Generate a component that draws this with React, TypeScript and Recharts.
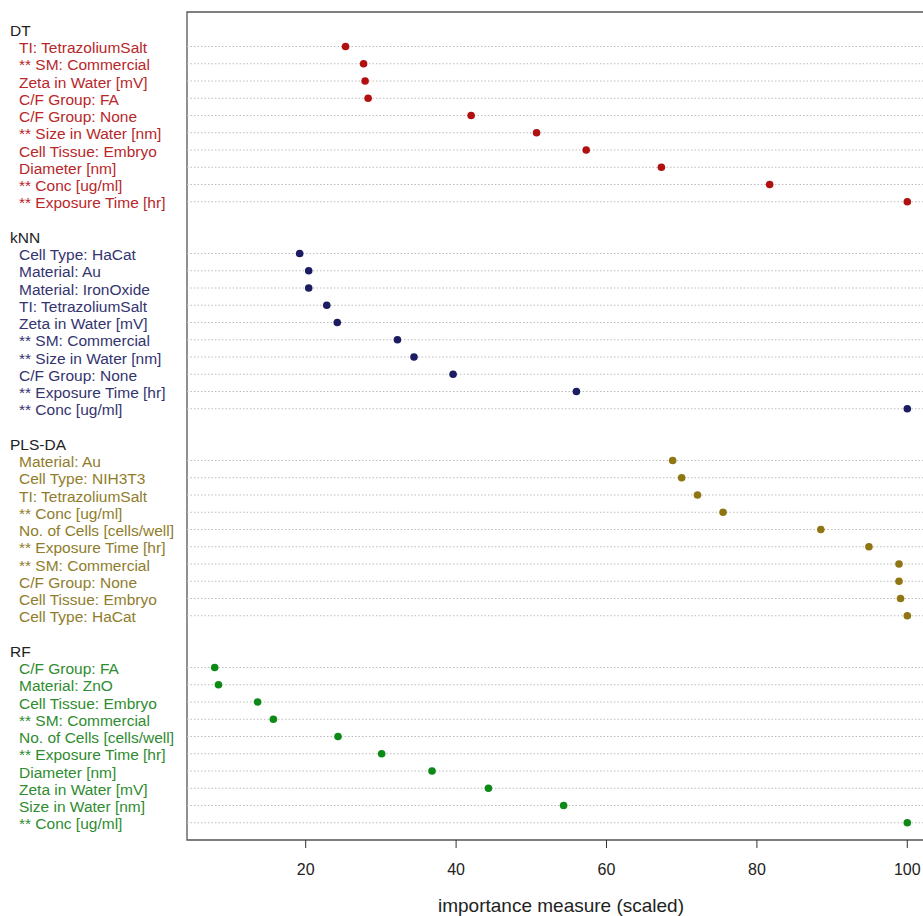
import { ScatterChart, Scatter, XAxis, YAxis, ReferenceLine, ReferenceArea } from "recharts";

const GROUP_NAMES = ["DT", "kNN", "PLS-DA", "RF"];
const GROUP_COLORS = ["#b01010", "#1c1c62", "#8f7612", "#0d8a16"];
const LABEL_COLORS = ["#b8272a", "#34346f", "#8f7d2c", "#2f8c30"];

const dtLabels = [
  "TI: TetrazoliumSalt", "** SM: Commercial", "Zeta in Water [mV]", "C/F Group: FA", "C/F Group: None",
  "** Size in Water [nm]", "Cell Tissue: Embryo", "Diameter [nm]", "** Conc [ug/ml]", "** Exposure Time [hr]",
];
const dtValues = [25.3, 27.7, 27.9, 28.3, 42.0, 50.7, 57.3, 67.3, 81.7, 100];

const knnLabels = [
  "Cell Type: HaCat", "Material: Au", "Material: IronOxide", "TI: TetrazoliumSalt", "Zeta in Water [mV]",
  "** SM: Commercial", "** Size in Water [nm]", "C/F Group: None", "** Exposure Time [hr]", "** Conc [ug/ml]",
];
const knnValues = [19.2, 20.4, 20.4, 22.8, 24.2, 32.2, 34.4, 39.6, 56.0, 100];

const plsLabels = [
  "Material: Au", "Cell Type: NIH3T3", "TI: TetrazoliumSalt", "** Conc [ug/ml]", "No. of Cells [cells/well]",
  "** Exposure Time [hr]", "** SM: Commercial", "C/F Group: None", "Cell Tissue: Embryo", "Cell Type: HaCat",
];
const plsValues = [68.8, 70.0, 72.1, 75.5, 88.5, 94.9, 98.9, 98.9, 99.1, 100];

const rfLabels = [
  "C/F Group: FA", "Material: ZnO", "Cell Tissue: Embryo", "** SM: Commercial", "No. of Cells [cells/well]",
  "** Exposure Time [hr]", "Diameter [nm]", "Zeta in Water [mV]", "Size in Water [nm]", "** Conc [ug/ml]",
];
const rfValues = [7.9, 8.4, 13.6, 15.7, 24.3, 30.1, 36.8, 44.3, 54.3, 100];

const X_TICKS = [20, 40, 60, 80, 100];

const groups = [
  { labels: dtLabels, values: dtValues },
  { labels: knnLabels, values: knnValues },
  { labels: plsLabels, values: plsValues },
  { labels: rfLabels, values: rfValues },
];

// slot layout like R's dotchart: header, 10 rows, blank gap
const SLOTS = 12;
type Tick = { text: string; header: boolean; color: string };
const tickInfo: Record<number, Tick> = {};
const seriesData = groups.map((g, gi) => {
  const base = gi * SLOTS;
  tickInfo[base] = { text: GROUP_NAMES[gi], header: true, color: "#222" };
  return g.values.map((v, i) => {
    tickInfo[base + 1 + i] = { text: g.labels[i], header: false, color: LABEL_COLORS[gi] };
    return { x: v, y: base + 1 + i };
  });
});
const yTicks = Object.keys(tickInfo).map(Number);
const rowPositions = seriesData.flat().map((d) => d.y);

const allValues = groups.flatMap((g) => g.values);
const xMin = Math.min(...allValues);
const xMax = Math.max(...allValues);
const pad = (xMax - xMin) * 0.04;
const X_DOMAIN: [number, number] = [xMin - pad, xMax + pad];
const Y_DOMAIN: [number, number] = [-1, SLOTS * 4 - 1];

const FONT = "'Liberation Sans', Arial, sans-serif";

function LabelTick(props: any) {
  const { y, payload } = props;
  const info = tickInfo[payload.value];
  if (!info) return null;
  return (
    <text x={info.header ? 10 : 19} y={y} dy="0.42em" fill={info.color} fontSize={15.5} fontFamily={FONT} textAnchor="start">
      {info.text}
    </text>
  );
}

function Dot(props: any) {
  const { cx, cy, fill } = props;
  return <circle cx={cx} cy={cy} r={3.8} fill={fill} />;
}

export default function App() {
  return (
    <div style={{ position: "fixed", top: 0, left: 0, width: 923, height: 916, overflow: "hidden", background: "#fff" }}>
      <ScatterChart width={950} height={916} margin={{ top: 12, right: 15, bottom: 0, left: 0 }}>
        <XAxis
          type="number"
          dataKey="x"
          domain={X_DOMAIN}
          allowDataOverflow
          ticks={X_TICKS}
          axisLine={false}
          tickSize={8}
          tickMargin={16}
          tickLine={{ stroke: "#333" }}
          tick={{ fill: "#222", fontSize: 16, fontFamily: FONT }}
          height={76}
          label={{ value: "importance measure (scaled)", position: "insideBottom", offset: 4, fill: "#222", fontSize: 19, fontFamily: FONT }}
        />
        <YAxis
          type="number"
          dataKey="y"
          domain={Y_DOMAIN}
          allowDataOverflow
          reversed
          ticks={yTicks}
          interval={0}
          width={187}
          axisLine={false}
          tickLine={false}
          tick={<LabelTick />}
        />
        {rowPositions.map((p) => (
          <ReferenceLine key={p} y={p} stroke="#bdbdbd" strokeDasharray="1.5 2" />
        ))}
        <ReferenceArea x1={X_DOMAIN[0]} x2={X_DOMAIN[1]} y1={Y_DOMAIN[0]} y2={Y_DOMAIN[1]} fill="none" stroke="#555" strokeWidth={1.3} />
        {seriesData.map((d, gi) => (
          <Scatter key={gi} data={d} fill={GROUP_COLORS[gi]} shape={<Dot />} isAnimationActive={false} />
        ))}
      </ScatterChart>
    </div>
  );
}
